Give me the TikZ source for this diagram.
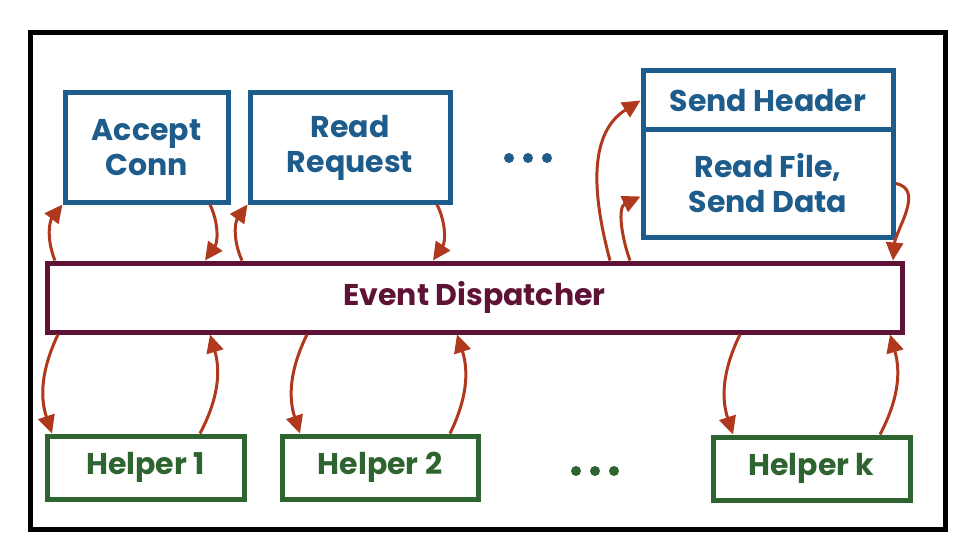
\documentclass[tikz,border=0pt]{standalone}
\usepackage{fontspec}
\setmainfont{Poppins}
\usetikzlibrary{arrows.meta,calc}
\definecolor{boxblue}{HTML}{1E5C8C}
\definecolor{dispred}{HTML}{5E1236}
\definecolor{helpgreen}{HTML}{2E6430}
\definecolor{arrred}{HTML}{B0381C}
\tikzset{
  lbl/.style={inner sep=0pt, font=\fontsize{30}{35}\selectfont\bfseries},
  taskbox/.style={lbl, draw=boxblue, line width=5pt, text=boxblue, align=center},
  dispbox/.style={lbl, draw=dispred, line width=5pt, text=dispred},
  helpbox/.style={lbl, draw=helpgreen, line width=5pt, text=helpgreen},
  flow/.style={draw=arrred, line width=3pt, -{Triangle[length=18pt,width=17pt]}},
  dot/.style={circle, inner sep=0pt, minimum size=10pt}
}
\begin{document}
\begin{tikzpicture}[x=1pt,y=1pt]
\useasboundingbox (0,0) rectangle (968,-548);
\fill[white] (0,0) rectangle (968,-548);
\draw[line width=5pt] (30,-33) rectangle (945,-529);

\node[taskbox, minimum width=163pt, minimum height=109pt] (acc) at (146.5,-147.5) {Accept\\Conn};
\node[taskbox, minimum width=200pt, minimum height=109pt] (rr) at (350,-147.5) {Read\\Request};
\node[taskbox, minimum width=250pt, minimum height=59pt] (sh) at (768,-100.5) {Send Header};
\node[taskbox, minimum width=250pt, minimum height=107pt] (rf) at (768,-183.5) {Read File,\\Send Data};
\node[dispbox, minimum width=855pt, minimum height=69pt] (disp) at (474.5,-297.5) {Event Dispatcher};
\node[helpbox, minimum width=197pt, minimum height=63pt] (h1) at (145.5,-467.5) {Helper 1};
\node[helpbox, minimum width=196pt, minimum height=63pt] (h2) at (380,-467.5) {Helper 2};
\node[helpbox, minimum width=197pt, minimum height=63pt] (hk) at (811.5,-468.5) {Helper k};

\node[dot, fill=boxblue] (td1) at (509,-158) {};
\node[dot, fill=boxblue] (td2) at (528,-158) {};
\node[dot, fill=boxblue] (td3) at (547,-158) {};
\node[dot, fill=helpgreen] (bd1) at (576,-471) {};
\node[dot, fill=helpgreen] (bd2) at (595,-471) {};
\node[dot, fill=helpgreen] (bd3) at (614,-471) {};

% top arrows
\draw[flow] (55,0 |- disp.north) to[bend left=30] (acc.south west);
\draw[flow] (210,0 |- acc.south) to[bend left=30] (205,0 |- disp.north);
\draw[flow] (242,0 |- disp.north) to[bend left=30] (rr.south west);
\draw[flow] (437,0 |- rr.south) to[bend left=30] (433,0 |- disp.north);
\draw[flow] (610,0 |- disp.north) to[out=105,in=212] (sh.west);
\draw[flow] (630,0 |- disp.north) to[out=110,in=205] ($(rf.west)+(0,-13)$);
\draw[flow] (rf.east) to[out=-10,in=85] (893,0 |- disp.north);

% bottom arrows
\draw[flow] (58,0 |- disp.south) to[bend right=22] (52,0 |- h1.north);
\draw[flow] (200,0 |- h1.north) to[bend right=22] (210,0 |- disp.south);
\draw[flow] (307,0 |- disp.south) to[bend right=22] (300,0 |- h2.north);
\draw[flow] (450,0 |- h2.north) to[bend right=22] (457,0 |- disp.south);
\draw[flow] (740,0 |- disp.south) to[bend right=22] (733,0 |- hk.north);
\draw[flow] (880,0 |- hk.north) to[bend right=22] (890,0 |- disp.south);
\end{tikzpicture}
\end{document}
